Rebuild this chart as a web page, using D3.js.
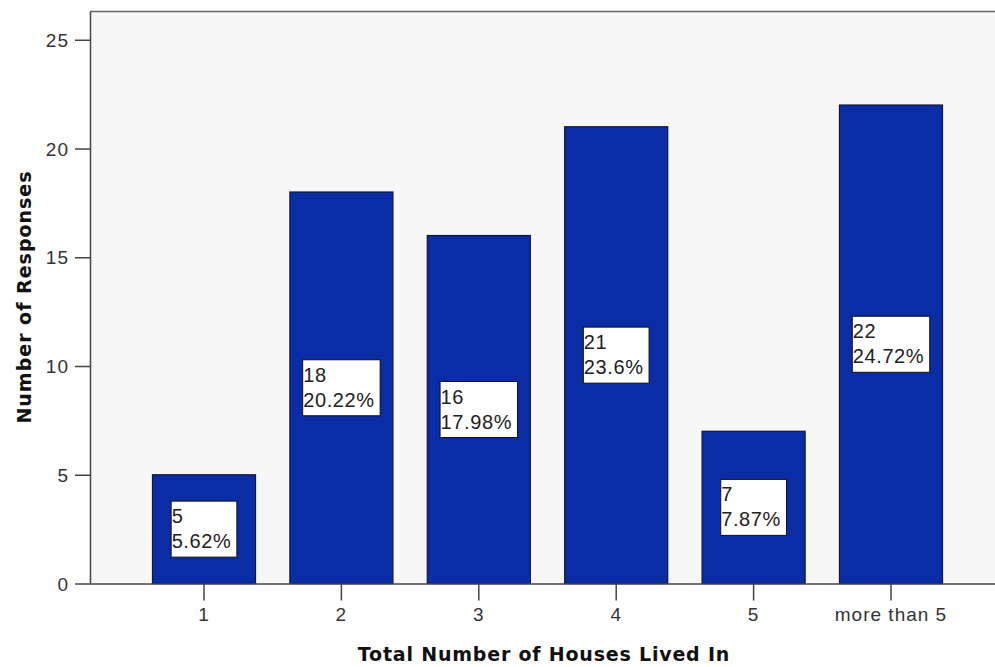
<!DOCTYPE html>
<html><head><meta charset="utf-8">
<script src="https://cdn.jsdelivr.net/npm/d3@7/dist/d3.min.js"></script>
<style>
body{margin:0;background:#fff;}
</style></head>
<body>
<svg id="chart" width="995" height="667" style="font-family:'Liberation Sans',Arial,sans-serif"></svg>
<script>
const categories = ["1","2","3","4","5","more than 5"];
const counts = [5,18,16,21,7,22];
const percents = ["5.62%","20.22%","17.98%","23.6%","7.87%","24.72%"];
const yTicks = [0,5,10,15,20,25];
const xTitle = "Total Number of Houses Lived In";
const yTitle = "Number of Responses";

const svg = d3.select("#chart");
const mLeft = 90, mRight = 995, mTop = 11.5, mBottom = 583.5;

const x = d3.scaleBand().domain(categories).range([135.3, 959.7]).paddingInner(0.25).paddingOuter(0.125);
const y = d3.scaleLinear().domain([0, 26.3]).range([mBottom, mTop]);

svg.append("rect").attr("x", mLeft).attr("y", mTop).attr("width", mRight-mLeft).attr("height", mBottom-mTop).attr("fill", "#f7f7f7");
svg.append("line").attr("x1", mLeft).attr("x2", mRight).attr("y1", mTop).attr("y2", mTop).attr("stroke", "#666").attr("stroke-width", 1.5);

const bars = svg.append("g").selectAll("g").data(categories).join("g");
bars.append("rect")
  .attr("x", d => x(d)).attr("width", x.bandwidth())
  .attr("y", (d,i) => y(counts[i])).attr("height", (d,i) => y(0) - y(counts[i]))
  .attr("fill", "#0a2da6").attr("stroke", "#10163a").attr("stroke-width", 1.2);

// axes
const yAxis = svg.append("g").attr("transform", `translate(${mLeft},0)`)
  .call(d3.axisLeft(y).tickValues(yTicks).tickSize(15).tickPadding(6).tickFormat(d3.format("d")));
const xAxis = svg.append("g").attr("transform", `translate(0,${mBottom})`)
  .call(d3.axisBottom(x).tickSize(17).tickPadding(7));
[yAxis, xAxis].forEach(a => {
  a.attr("font-family", null).attr("font-size", null);
  a.selectAll(".domain").attr("stroke", "#444").attr("stroke-width", 1.5);
  a.selectAll(".tick line").attr("stroke", "#444").attr("stroke-width", 1.5);
  a.selectAll("text").style("font-size", "19px").attr("fill", "#333").style("letter-spacing", "1px")
    .style("font-family", "'Liberation Sans', Arial, sans-serif");
});
xAxis.select(".domain").attr("d", `M${mLeft},0.5H${mRight}`);
yAxis.select(".domain").attr("d", `M0.5,${mTop}V${mBottom}`);
yAxis.selectAll("text").attr("dy", "0.35em");

// labels
bars.each(function(d, i) {
  const g = d3.select(this);
  const cx = x(d) + x.bandwidth()/2;
  const cy = y(counts[i]/2);
  const t = g.append("text").style("font-size", "20px").attr("fill", "#222").style("letter-spacing", "0.6px");
  t.append("tspan").text(counts[i]).attr("x", 0).attr("y", 0);
  t.append("tspan").text(percents[i]).attr("x", 0).attr("y", 25);
  const w = t.node().getBBox().width + 6;
  const h = 56;
  const bx = cx - w/2, by = cy - h/2;
  g.insert("rect", "text").attr("x", bx).attr("y", by).attr("width", w).attr("height", h)
    .attr("fill", "#fff").attr("stroke", "#111").attr("stroke-width", 1);
  t.attr("transform", `translate(${bx+0.5},${by+22})`);
});

svg.append("text").attr("x", 544).attr("y", 661).attr("text-anchor", "middle")
  .style("font-family", "'DejaVu Sans', sans-serif").style("letter-spacing", "0.8px")
  .style("font-size", "19px").style("font-weight", "bold").attr("fill", "#111").text(xTitle);
svg.append("text").attr("transform", "translate(31,297) rotate(-90)").attr("text-anchor", "middle")
  .style("font-family", "'DejaVu Sans', sans-serif").style("letter-spacing", "1px")
  .style("font-size", "19px").style("font-weight", "bold").attr("fill", "#111").text(yTitle);
</script>
</body></html>
